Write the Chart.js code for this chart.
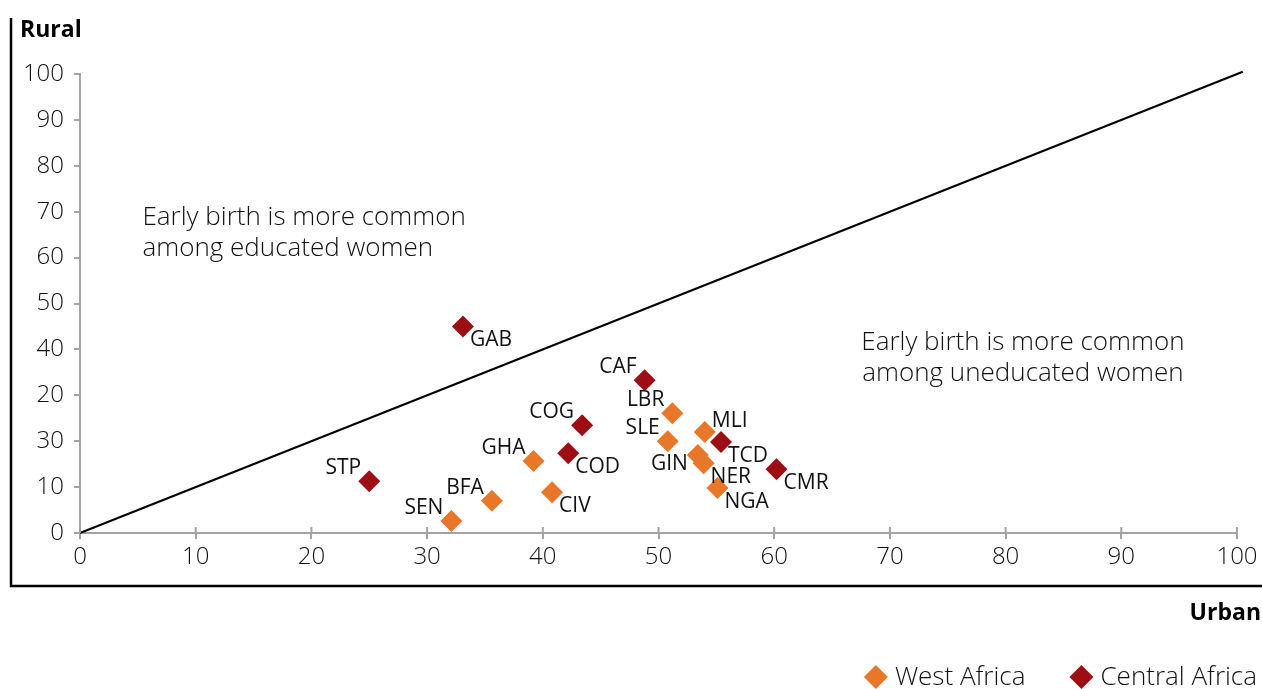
<!DOCTYPE html>
<html><head><meta charset="utf-8">
<script src="https://cdn.jsdelivr.net/npm/chart.js@4.4.1/dist/chart.umd.min.js"></script>
<style>html,body{margin:0;padding:0;background:#fff}#wrap{width:1262px;height:689px;position:relative}</style>
</head><body><div id="wrap"><canvas id="c"></canvas></div>
<script>
// ---- data ----
const westCodes   = ['SEN','BFA','GHA','CIV','LBR','SLE','GIN','NER','MLI','NGA'];
const westUrban   = [32.1, 35.6, 39.2, 40.8, 51.2, 50.8, 53.4, 53.9, 54.0, 55.1];
const westRural   = [2.6,  7.0,  15.7, 8.9,  26.1, 20.0, 17.0, 15.2, 22.0, 9.8];
const centralCodes = ['GAB','STP','COG','COD','CAF','TCD','CMR'];
const centralUrban = [33.1, 25.0, 43.4, 42.2, 48.8, 55.4, 60.2];
const centralRural = [45.0, 11.3, 23.5, 17.4, 33.3, 19.8, 13.9];
const seriesNames = ['West Africa', 'Central Africa'];
const xTickLabels = ['0','10','20','30','40','50','60','70','80','90','100'];
const yTickLabels = ['0','10','30','20','40','50','60','70','80','90','100'];
const diagonal = [0, 100.5];
const axisTitles = { x: 'Urban', y: 'Rural' };
const notes = [
  ['Early birth is more common', 'among educated women'],
  ['Early birth is more common', 'among uneducated women']
];

// ---- label placement (style, not data) ----
const westAnchor    = ['ul','ul','ul','lr','ul','ul','ll','lr','ur','lr'];
const centralAnchor = ['lr','ul','ul','lr','ul','lr','lr'];

const FONT = '"Open Sans", "Liberation Sans", Arial, sans-serif';
const ORANGE = '#E8772A';
const DARKRED = '#9C0D14';
const AXIS = '#A3A3A3';
const TEXT = '#111';

function pts(xs, ys){ return xs.map((x,i)=>({x:x, y:ys[i]})); }

const anchorCfg = {
  ul: {dx:-8, dy:-13, align:'right'},
  lr: {dx: 7, dy: 14, align:'left'},
  ll: {dx:-10, dy: 9, align:'right'},
  ur: {dx: 7, dy:-11, align:'left'}
};

const decor = {
  id: 'decor',
  afterDatasetsDraw(chart){
    const ctx = chart.ctx;
    const xs = chart.scales.x, ys = chart.scales.y;
    ctx.save();
    // inward half of x ticks
    ctx.strokeStyle = AXIS; ctx.lineWidth = 2;
    xs.ticks.forEach(t=>{
      const px = xs.getPixelForValue(t.value);
      ctx.beginPath(); ctx.moveTo(px, ys.bottom); ctx.lineTo(px, ys.bottom-6); ctx.stroke();
    });
    // point labels
    ctx.fillStyle = TEXT;
    ctx.font = '400 21px ' + FONT;
    ctx.textBaseline = 'middle';
    const sets = [[0, westCodes, westAnchor],[1, centralCodes, centralAnchor]];
    sets.forEach(([di, codes, anch])=>{
      const meta = chart.getDatasetMeta(di);
      meta.data.forEach((el,i)=>{
        const a = anchorCfg[anch[i]];
        ctx.textAlign = a.align;
        ctx.fillText(codes[i], el.x + a.dx, el.y + a.dy);
      });
    });
    // notes
    ctx.font = '300 26px ' + FONT;
    ctx.textBaseline = 'alphabetic';
    ctx.fillStyle = TEXT;
    ctx.textAlign = 'left';
    let nx = xs.getPixelForValue(5.4), ny = ys.getPixelForValue(67.0);
    ctx.fillText(notes[0][0], nx, ny); ctx.fillText(notes[0][1], nx, ny+31);
    ctx.textAlign = 'center';
    nx = xs.getPixelForValue(81.5); ny = ys.getPixelForValue(39.8);
    ctx.fillText(notes[1][0], nx, ny); ctx.fillText(notes[1][1], nx, ny+31);
    ctx.restore();
  },
  afterDraw(chart){
    const ctx = chart.ctx;
    ctx.save();
    // frame lines
    ctx.strokeStyle = '#000'; ctx.lineWidth = 2.5;
    ctx.beginPath(); ctx.moveTo(11, 18); ctx.lineTo(11, 586); ctx.lineTo(1262, 586); ctx.stroke();
    // titles
    ctx.fillStyle = '#000';
    ctx.font = 'bold 23px ' + FONT;
    ctx.textBaseline = 'alphabetic';
    ctx.textAlign = 'left';
    ctx.fillText(axisTitles.y, 20, 37);
    ctx.textAlign = 'right';
    ctx.fillText(axisTitles.x, 1261, 620);
    // legend
    ctx.font = '300 26px ' + FONT;
    ctx.textAlign = 'left';
    const cols = [ORANGE, DARKRED];
    let right = 1257;
    const items = [];
    for (let i = seriesNames.length-1; i >= 0; i--) {
      const w = ctx.measureText(seriesNames[i]).width;
      const tx = right - w;
      const cx = tx - 19;
      items.push([i, tx, cx]);
      right = cx - 56;
    }
    items.forEach(([i, tx, cx])=>{
      const cy = 677, r = 12;
      ctx.fillStyle = cols[i];
      ctx.beginPath(); ctx.moveTo(cx, cy-r); ctx.lineTo(cx+r, cy); ctx.lineTo(cx, cy+r); ctx.lineTo(cx-r, cy); ctx.closePath(); ctx.fill();
      ctx.fillStyle = TEXT;
      ctx.fillText(seriesNames[i], tx, 685);
    });
    ctx.restore();
  }
};

new Chart(document.getElementById('c'), {
  data: {
    datasets: [
      { type:'scatter', label: seriesNames[0], data: pts(westUrban, westRural),
        backgroundColor: ORANGE, borderColor: ORANGE, pointStyle:'rectRot', pointRadius: 11, pointHoverRadius: 11, borderWidth:0, order:1 },
      { type:'scatter', label: seriesNames[1], data: pts(centralUrban, centralRural),
        backgroundColor: DARKRED, borderColor: DARKRED, pointStyle:'rectRot', pointRadius: 11, pointHoverRadius: 11, borderWidth:0, order:1 },
      { type:'line', label:'diagonal', data: pts(diagonal, diagonal), borderColor:'#000', borderWidth:2.2,
        pointRadius:0, fill:false, clip:false, order:2 }
    ]
  },
  options: {
    responsive: true, maintainAspectRatio: false, animation: false,
    layout: { padding: { top: 74, right: 25, bottom: 0, left: 0 } },
    plugins: { legend: { display:false }, tooltip: { enabled:false } },
    scales: {
      x: { type:'linear', min:0, max:100,
        afterFit(s){ s.height = 689 - 533; },
        border: { display:true, color: AXIS, width: 2 },
        grid: { display:true, drawOnChartArea:false, drawTicks:true, tickLength:6, color: AXIS, lineWidth:2 },
        ticks: { stepSize:10, padding:4, color: TEXT, font:{ family: FONT, size:24, weight:'300' },
          callback(v){ return xTickLabels[Math.round(v/10)]; } }
      },
      y: { type:'linear', min:0, max:100,
        afterFit(s){ s.width = 80; },
        border: { display:true, color: AXIS, width: 2 },
        grid: { display:true, drawOnChartArea:false, drawTicks:true, tickLength:6, color: AXIS, lineWidth:2 },
        ticks: { stepSize:10, padding:10, color: TEXT, font:{ family: FONT, size:24, weight:'300' },
          callback(v){ return yTickLabels[Math.round(v/10)]; } }
      }
    }
  },
  plugins: [decor]
});
</script></body></html>
